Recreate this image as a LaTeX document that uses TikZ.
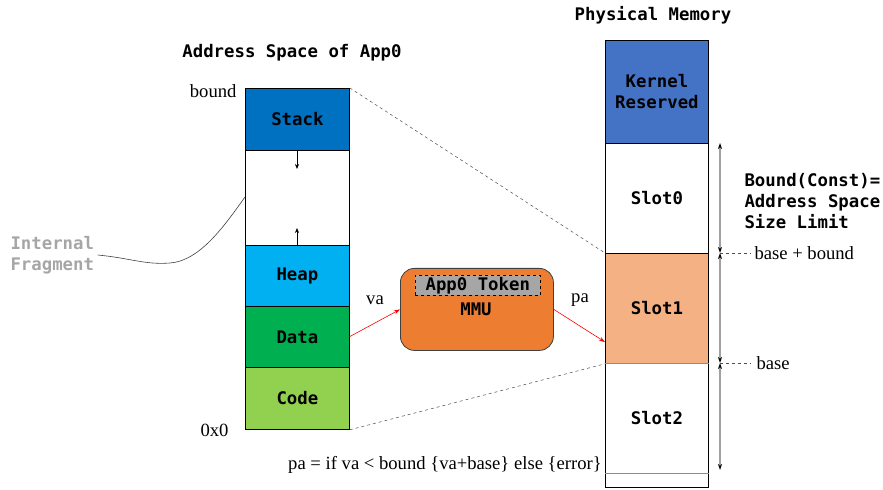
\documentclass[tikz,border=0pt]{standalone}
\usepackage{fontspec}
\setmainfont{Liberation Serif}
\setmonofont{DejaVu Sans Mono}
\usetikzlibrary{arrows.meta}
\definecolor{stackc}{HTML}{0070C0}
\definecolor{heapc}{HTML}{00B0F0}
\definecolor{datac}{HTML}{00B050}
\definecolor{codec}{HTML}{92D050}
\definecolor{kernc}{HTML}{4472C4}
\definecolor{slotc}{HTML}{F4B183}
\definecolor{mmuc}{HTML}{ED7D31}
\definecolor{tokc}{HTML}{A6A6A6}
\definecolor{fragc}{HTML}{A6A6A6}
\definecolor{dimc}{HTML}{A0A0A0}
\tikzset{
  mono/.style={font=\fontsize{17.4}{21}\selectfont\ttfamily\bfseries},
  serif/.style={font=\fontsize{18.7}{21}\selectfont},
  block/.style={draw=black, line width=0.8bp, mono, inner sep=0pt, minimum width=104bp, anchor=north west},
  pblock/.style={draw=black, line width=0.8bp, mono, inner sep=0pt, minimum width=103bp, anchor=north west, align=center},
  guide/.style={draw=black!70, dashed, line width=0.5bp},
  redarr/.style={draw=red, line width=0.6bp, -{Stealth[length=6bp,width=4bp]}},
  smallarr/.style={draw=black, line width=0.6bp, -{Stealth[length=5bp,width=4bp]}},
  dimline/.style={draw=dimc, line width=1.5bp, {Stealth[length=6bp,width=4bp,black]}-{Stealth[length=6bp,width=4bp,black]}},
}
\begin{document}
\begin{tikzpicture}[x=1bp,y=-1bp]
\useasboundingbox (0,0) rectangle (883,490);
% titles
\node[mono] (t1) at (292,53) {Address Space of App0};
\node[mono] (t2) at (653,15) {Physical Memory};
% address space column
\node[block, fill=stackc, minimum height=62bp] (stack) at (245,88) {Stack};
\node[block, fill=white, minimum height=95bp] (gap) at (245,150) {};
\node[block, fill=heapc, minimum height=61bp] (heap) at (245,245) {Heap};
\node[block, fill=datac, minimum height=61bp] (data) at (245,306) {Data};
\node[block, fill=codec, minimum height=62bp] (code) at (245,367) {Code};
\coordinate (sa0) at (297,150);
\coordinate (sa1) at (297,169);
\coordinate (ha0) at (297,245);
\coordinate (ha1) at (297,228);
\draw[smallarr] (sa0) -- (sa1);
\draw[smallarr] (ha0) -- (ha1);
\node[serif, anchor=east] (lbound) at (240,91) {bound};
\node[serif, anchor=east] (lzero) at (232,430) {0x0};
% internal fragment
\node[mono, text=fragc, align=left, anchor=west] (frag) at (7,255) {Internal\\Fragment};
\coordinate (fragend) at (245,197);
\draw[black!75, line width=0.6bp] (frag.east) .. controls (130,258) and (145,265) .. (170,263) .. controls (200,261) and (225,225) .. (fragend);
% physical memory
\node[pblock, fill=kernc, minimum height=103bp] (kern) at (605,40) {Kernel\\Reserved};
\node[pblock, fill=white, minimum height=110bp] (slot0) at (605,143) {Slot0};
\node[pblock, fill=slotc, minimum height=110bp] (slot1) at (605,253) {Slot1};
\node[pblock, fill=white, minimum height=110bp] (slot2) at (605,363) {Slot2};
\node[pblock, fill=white, minimum height=14bp] (tail) at (605,473) {};
\draw[black!45, line width=1bp] (tail.north west) -- (tail.north east);
\draw[black!45, line width=1bp] (slot2.north west) -- (slot2.north east);
% guide dashed lines
\draw[guide] (stack.north east) -- (slot1.north west);
\draw[guide] (code.south east) -- (slot1.south west);
% MMU
\node[draw=black!75, line width=0.8bp, fill=mmuc, rounded corners=14bp, minimum width=153bp, minimum height=82bp, anchor=north west] (mmu) at (400,268) {};
\node[mono, anchor=north west, draw=black, dashed, line width=0.6bp, fill=tokc, minimum width=125bp, minimum height=20bp, inner sep=0pt] (tok) at (415,275) {App0 Token};
\node[mono] (mmut) at (476,309) {MMU};
\coordinate (vafrom) at (349,337);
\coordinate (pato) at (605,342);
\draw[redarr] (vafrom) -- (mmu.west);
\draw[redarr] (mmu.east) -- (pato);
\node[serif] (va) at (375,300) {va};
\node[serif] (pa) at (580,300) {pa};
% dimension line
\coordinate (d0) at (720,143);
\coordinate (d1) at (720,253);
\coordinate (d2) at (720,363);
\coordinate (d3) at (720,470);
\draw[dimline] (d0) -- (d1);
\draw[dimline] (d1) -- (d2);
\draw[dimline] (d2) -- (d3);
\coordinate (e1) at (751,253);
\coordinate (e2) at (751,363);
\draw[guide] (d1) -- (e1);
\draw[guide] (d2) -- (e2);
\node[serif, anchor=west] (lbb) at (751,253) {base + bound};
\node[serif, anchor=west] (lb) at (753,363) {base};
\node[mono, anchor=west, align=left] (boundlbl) at (741,201) {Bound(Const)=\\Address Space\\Size Limit};
% formula
\node[serif] (formula) at (445,465) {pa = if va < bound \{va+base\} else \{error\}};
\end{tikzpicture}
\end{document}
